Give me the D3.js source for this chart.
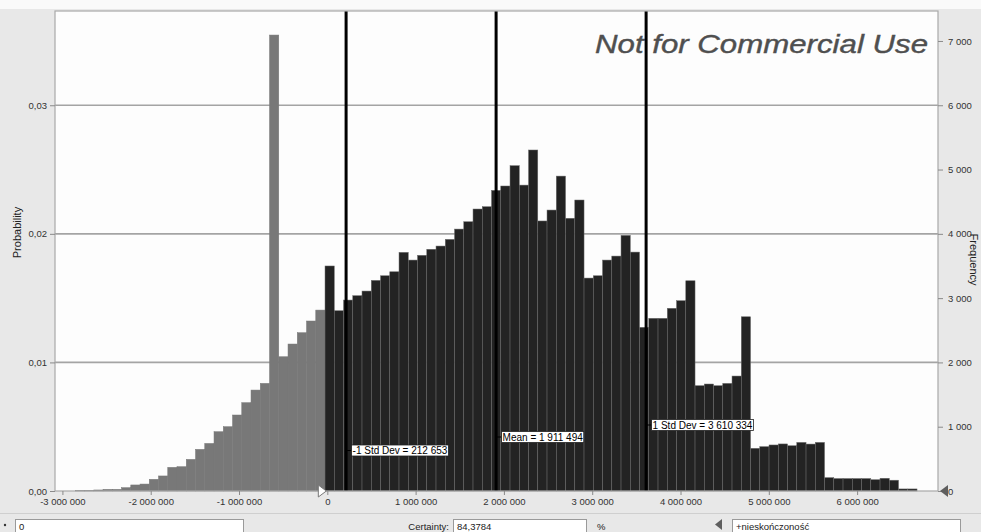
<!DOCTYPE html>
<html>
<head>
<meta charset="utf-8">
<script src="https://cdn.jsdelivr.net/npm/d3@7"></script>
<style>
  body { margin: 0; background: #e9e9e9; overflow: hidden; }
  svg { display: block; font-family: "Liberation Sans", Arial, sans-serif; }
</style>
</head>
<body>
<div id="root"></div>
<script>
// histogram bins (uniform width), probability per bin
const firstBinStart = -2854520;
const binWidth = 104760;
const probabilities = [
  0.00003, 0.00004, 0.00008, 0.00013, 0.00013, 0.00026, 0.00047, 0.00054,
  0.00091, 0.00117, 0.00184, 0.00189, 0.00246, 0.00324, 0.0037, 0.00461,
  0.005, 0.00591, 0.00687, 0.00785, 0.00837, 0.03546, 0.01044, 0.01143,
  0.01231, 0.01322, 0.01407,
  0.0175, 0.01402, 0.01485, 0.01519, 0.01555, 0.01638, 0.01674, 0.01705,
  0.01856, 0.01796, 0.01833, 0.0188, 0.01905, 0.01957, 0.02037, 0.02094,
  0.02193, 0.02211, 0.02338, 0.02372, 0.0253, 0.02379, 0.02652, 0.021,
  0.02185, 0.02449, 0.02121, 0.02263, 0.01656, 0.01674, 0.01796, 0.01827,
  0.01988, 0.01858, 0.01273, 0.01343, 0.01343, 0.01421, 0.0148, 0.01635,
  0.00819, 0.00832, 0.00819, 0.00837, 0.00894, 0.01355, 0.00332, 0.00345,
  0.00358, 0.00366, 0.00352, 0.00378, 0.00365, 0.00378, 0.00104, 0.00097,
  0.00097, 0.00097, 0.00097, 0.00088, 0.00099, 0.00084, 0.00016, 0.00016,
];
const trials = 200000;
const certaintyFrom = 0;
const certaintyValue = '84,3784';
const upperBoundText = '+nieskończoność';

const xTicks = [-3000000, -2000000, -1000000, 0, 1000000, 2000000, 3000000, 4000000, 5000000, 6000000];
const probabilityTicks = [0, 0.01, 0.02, 0.03];
const frequencyTicks = [0, 1000, 2000, 3000, 4000, 5000, 6000, 7000];

const statNames = ['-1 Std Dev', 'Mean', '1 Std Dev'];
const statValues = [212653, 1911494, 3610334];

function drawChart() {
  const locale = d3.formatLocale({
    decimal: ',',
    thousands: ' ',
    grouping: [3],
    currency: ['', ''],
    minus: '-',
  });
  const numberFormat = locale.format(',d');
  const probFormat = locale.format(',.2f');

  const dimensions = {
    width: 981,
    height: 532,
    margin: { top: 11, right: 43, bottom: 41, left: 55 },
  };
  dimensions.boundedWidth =
    dimensions.width - dimensions.margin.left - dimensions.margin.right;
  dimensions.boundedHeight =
    dimensions.height - dimensions.margin.top - dimensions.margin.bottom;

  const bins = probabilities.map((p, i) => ({
    x0: firstBinStart + i * binWidth,
    x1: firstBinStart + (i + 1) * binWidth,
    p,
  }));
  const inCertainty = d => (d.x0 + d.x1) / 2 >= certaintyFrom;

  const xScale = d3
    .scaleLinear()
    .domain([-3084000, 6916000])
    .range([0, dimensions.boundedWidth]);

  const yMax = 0.03733;
  const yScale = d3
    .scaleLinear()
    .domain([0, yMax])
    .range([dimensions.boundedHeight, 0]);

  const countScale = d3
    .scaleLinear()
    .domain([0, yMax * trials])
    .range([dimensions.boundedHeight, 0]);

  const wrapper = d3
    .select('#root')
    .append('svg')
    .attr('width', dimensions.width)
    .attr('height', dimensions.height);

  // window background
  wrapper.append('rect').attr('width', dimensions.width).attr('height', dimensions.height).attr('fill', '#e8e8e8');
  wrapper.append('rect').attr('width', dimensions.width).attr('height', 9).attr('fill', '#fafafa');

  const bounds = wrapper
    .append('g')
    .attr('transform', `translate(${dimensions.margin.left}, ${dimensions.margin.top})`);

  bounds
    .append('rect')
    .attr('width', dimensions.boundedWidth)
    .attr('height', dimensions.boundedHeight)
    .attr('fill', '#fdfdfd');

  // grid
  bounds
    .append('g')
    .selectAll('line')
    .data(probabilityTicks.filter(d => d > 0))
    .join('line')
    .attr('x1', 0)
    .attr('x2', dimensions.boundedWidth)
    .attr('y1', d => yScale(d))
    .attr('y2', d => yScale(d))
    .attr('stroke', '#a4a4a4')
    .attr('stroke-width', 1.6);

  // bars
  bounds
    .append('g')
    .selectAll('rect')
    .data(bins)
    .join('rect')
    .attr('x', d => xScale(d.x0))
    .attr('width', d => xScale(d.x1) - xScale(d.x0))
    .attr('y', d => yScale(d.p))
    .attr('height', d => dimensions.boundedHeight - yScale(d.p))
    .attr('fill', d => (inCertainty(d) ? '#232323' : '#787878'))
    .attr('stroke', d => (inCertainty(d) ? '#6a6a6a' : '#787878'))
    .attr('stroke-width', 0.5);

  // watermark
  bounds
    .append('text')
    .attr('x', 873)
    .attr('y', 42)
    .attr('text-anchor', 'end')
    .attr('font-size', 26)
    .attr('font-style', 'italic')
    .attr('fill', '#4f4f4f')
    .attr('stroke', '#4f4f4f')
    .attr('stroke-width', 0.4)
    .attr('textLength', 333)
    .attr('lengthAdjust', 'spacingAndGlyphs')
    .text('Not for Commercial Use');

  // std dev / mean lines
  const stats = statNames.map((name, i) => ({ name, value: statValues[i] }));
  const labelTops = [434, 420.5, 408.5];

  const statGroup = bounds.append('g');
  statGroup
    .selectAll('line')
    .data(stats)
    .join('line')
    .attr('x1', d => xScale(d.value))
    .attr('x2', d => xScale(d.value))
    .attr('y1', 0)
    .attr('y2', dimensions.boundedHeight)
    .attr('stroke', '#000')
    .attr('stroke-width', 3);

  const labels = statGroup
    .selectAll('g.label')
    .data(stats)
    .join('g')
    .attr('class', 'label')
    .attr('transform', (d, i) => `translate(${xScale(d.value)}, ${labelTops[i]})`);

  labels
    .append('line')
    .attr('x1', 0)
    .attr('x2', 6)
    .attr('y1', 5.5)
    .attr('y2', 5.5)
    .attr('stroke', '#000');

  labels.each(function (d) {
    const g = d3.select(this);
    const t = g
      .append('text')
      .attr('x', 6.5)
      .attr('y', 9.3)
      .attr('font-size', 10)
      .attr('fill', '#000')
      .text(`${d.name} = ${numberFormat(d.value)}`);
    const w = t.node().getComputedTextLength();
    g.insert('rect', 'text')
      .attr('x', 5.5)
      .attr('y', 0)
      .attr('width', w + 2)
      .attr('height', 11)
      .attr('fill', '#fff')
      .attr('stroke', '#222')
      .attr('stroke-width', 0.8);
  });

  // frame
  bounds
    .append('rect')
    .attr('width', dimensions.boundedWidth)
    .attr('height', dimensions.boundedHeight)
    .attr('fill', 'none')
    .attr('stroke', '#a9a9a9')
    .attr('stroke-width', 1.2);

  // axes
  const xAxisGroup = bounds
    .append('g')
    .attr('transform', `translate(0, ${dimensions.boundedHeight})`)
    .call(
      d3.axisBottom(xScale).tickValues(xTicks).tickFormat(numberFormat).tickSize(4).tickPadding(3)
    );

  const yAxisGroup = bounds
    .append('g')
    .call(
      d3.axisLeft(yScale).tickValues(probabilityTicks).tickFormat(probFormat).tickSize(5).tickPadding(3)
    );

  const countAxisGroup = bounds
    .append('g')
    .attr('transform', `translate(${dimensions.boundedWidth}, 0)`)
    .call(
      d3.axisRight(countScale).tickValues(frequencyTicks).tickFormat(numberFormat).tickSize(5).tickPadding(5)
    );

  [xAxisGroup, yAxisGroup, countAxisGroup].forEach(axis => {
    axis.select('path.domain').remove();
    axis.selectAll('.tick line').attr('stroke', '#8a8a8a');
    axis
      .selectAll('.tick text')
      .attr('font-size', 9.5)
      .attr('font-family', '"Liberation Sans", Arial, sans-serif')
      .attr('fill', '#333');
  });

  // axis titles
  bounds
    .append('text')
    .attr('transform', `translate(-34, ${yScale(0.0201)}) rotate(-90)`)
    .attr('text-anchor', 'middle')
    .attr('font-size', 11)
    .attr('fill', '#222')
    .text('Probability');

  bounds
    .append('text')
    .attr('transform', `translate(${dimensions.boundedWidth + 32}, ${countScale(3600)}) rotate(90)`)
    .attr('text-anchor', 'middle')
    .attr('font-size', 11)
    .attr('fill', '#222')
    .text('Frequency');

  // certainty grabbers
  const x0 = xScale(certaintyFrom) - 5;
  const yb = dimensions.boundedHeight;
  bounds
    .append('path')
    .attr('d', `M${x0 - 4},${yb - 6} L${x0 + 4},${yb} L${x0 - 4},${yb + 6} Z`)
    .attr('fill', '#fff')
    .attr('stroke', '#777');
  const xr = dimensions.boundedWidth + 5;
  bounds
    .append('path')
    .attr('d', `M${xr + 5},${yb - 6} L${xr - 3},${yb} L${xr + 5},${yb + 6} Z`)
    .attr('fill', '#5e5e5e');

  // bottom control row
  const controls = wrapper.append('g');
  controls
    .append('line')
    .attr('x1', 0)
    .attr('x2', dimensions.width)
    .attr('y1', 513.5)
    .attr('y2', 513.5)
    .attr('stroke', '#cfcfcf');

  const boxes = [
    { x: 15, w: 228, text: numberFormat(certaintyFrom) },
    { x: 453, w: 133, text: certaintyValue },
    { x: 732, w: 228, text: upperBoundText },
  ];
  controls
    .selectAll('rect.box')
    .data(boxes)
    .join('rect')
    .attr('class', 'box')
    .attr('x', d => d.x + 0.5)
    .attr('y', 519.5)
    .attr('width', d => d.w)
    .attr('height', 16)
    .attr('fill', '#fff')
    .attr('stroke', '#9a9a9a');
  controls
    .selectAll('text.box')
    .data(boxes)
    .join('text')
    .attr('class', 'box')
    .attr('x', d => d.x + 4)
    .attr('y', 529.5)
    .attr('font-size', 9.5)
    .attr('fill', '#222')
    .text(d => d.text);

  controls
    .append('text')
    .attr('x', 449)
    .attr('y', 529.5)
    .attr('text-anchor', 'end')
    .attr('font-size', 9.5)
    .attr('fill', '#222')
    .text('Certainty:');
  controls
    .append('text')
    .attr('x', 597)
    .attr('y', 529.5)
    .attr('font-size', 9.5)
    .attr('fill', '#222')
    .text('%');
  controls
    .append('path')
    .attr('d', 'M722,519 L715,524.5 L722,530 Z')
    .attr('fill', '#5e5e5e');
  controls
    .append('circle')
    .attr('cx', 5)
    .attr('cy', 525)
    .attr('r', 1.2)
    .attr('fill', '#333');
}

drawChart();
</script>
</body>
</html>
